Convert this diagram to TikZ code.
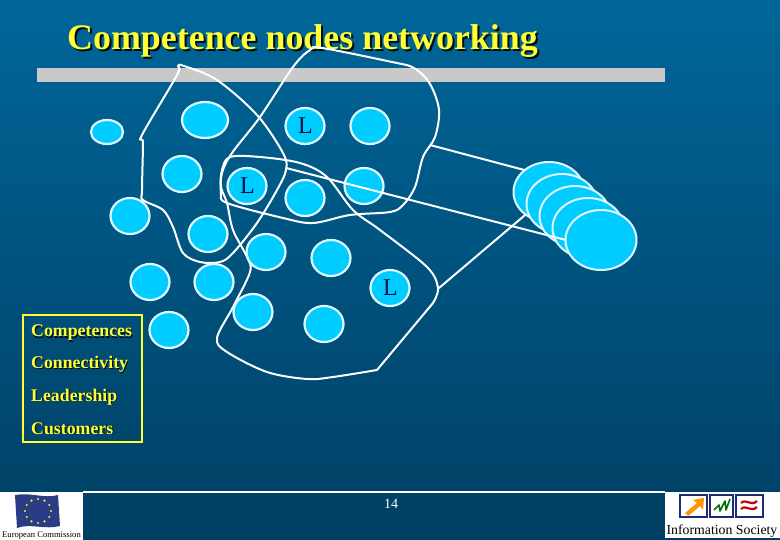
\documentclass[tikz,border=0pt]{standalone}
\usepackage{fontspec}
\setmainfont{Liberation Serif}
\usetikzlibrary{shapes.geometric}
\definecolor{bgtop}{HTML}{006699}
\definecolor{bgbot}{HTML}{003F63}
\definecolor{disc}{HTML}{00CCFF}
\definecolor{ttl}{HTML}{FFFF33}
\definecolor{navy}{HTML}{00104A}
\definecolor{euflag}{HTML}{2B3C86}
\definecolor{isblue}{HTML}{1C2C78}
\tikzset{
  disk/.style={ellipse,draw=white!88!disc,fill=disc,line width=2.2pt,inner sep=0pt,outer sep=0pt,
    minimum width=39pt,minimum height=36pt,text=navy,font=\fontsize{24}{24}\selectfont},
  stackdisk/.style={disk,line width=2pt,minimum width=71pt,minimum height=60pt},
  blob/.style={draw=white,line width=2pt,line join=round},
  link/.style={draw=white,line width=2pt},
  titletext/.style={inner sep=0pt,anchor=base west,font=\fontsize{35.9}{36}\selectfont\bfseries},
  legendtext/.style={inner sep=0pt,anchor=base west,font=\fontsize{17.8}{18}\selectfont\bfseries},
  logotext/.style={inner sep=0pt,anchor=base,text=black},
  isbox/.style={draw=isblue,line width=2.6pt,fill=white}
}
\newcommand{\leaderL}{\hspace*{1pt}\raisebox{-1.5pt}{L}}
\begin{document}
\begin{tikzpicture}[x=1pt,y=-1pt]
\useasboundingbox (0,0) rectangle (780,540);
\shade[top color=bgtop,bottom color=bgbot] (0,0) rectangle (780,540);
% bar
\fill[gray!42!white] (37,68) rectangle (665,82);
% title
\node[titletext,text=black!85!bgbot] (titleshadow) at (69,51.5) {Competence nodes networking};
\node[titletext,text=ttl] (title) at (67,49.5) {Competence nodes networking};
% regions
\draw[blob] plot[smooth cycle,tension=0.55] coordinates {(178,66) (184,66) (217,80) (257,115) (283,153) (286,170) (277,190) (257,223) (233,253) (220,262) (200,262) (183,253) (173,227) (163,210) (143,200) (142,190) (143,143) (142,135) (177,75)};
\draw[blob] plot[smooth cycle,tension=0.55] coordinates {(310,50) (322,48) (392,62) (414,68) (430,84) (439,110) (435,137) (423,157) (415,187) (403,205) (390,212) (350,215) (313,223) (283,218) (227,203) (221,193) (222,173) (232,153) (260,117) (293,67)};
\draw[blob] plot[smooth,tension=0.55] coordinates {(377,370) (333,377) (307,379) (267,372) (227,352) (217,338) (233,307) (250,272) (247,257) (233,230) (227,203) (221,187) (222,170) (230,157) (260,157) (300,163) (327,177) (353,210) (380,230) (427,267) (438,288) (433,303)} -- cycle;
% discs
\node[disk,minimum width=32pt,minimum height=24pt] (d1) at (107,132) {};
\node[disk,minimum width=46pt] (d2) at (205,120) {};
\node[disk] (d3) at (305,126) {\leaderL};
\node[disk] (d4) at (370,126) {};
\node[disk] (d5) at (182,174) {};
\node[disk] (d6) at (247,186) {\leaderL};
\node[disk] (d7) at (305,198) {};
\node[disk] (d8) at (364,186) {};
\node[disk] (d9) at (130,216) {};
\node[disk] (d10) at (208,234) {};
\node[disk] (d11) at (266,252) {};
\node[disk] (d12) at (331,258) {};
\node[disk] (d13) at (390,288) {\leaderL};
\node[disk] (d14) at (150,282) {};
\node[disk] (d15) at (214,282) {};
\node[disk] (d16) at (169,330) {};
\node[disk] (d17) at (253,312) {};
\node[disk] (d18) at (324,324) {};
% stack
\node[stackdisk] (s1) at (549,192) {};
\node[stackdisk] (s2) at (562,204) {};
\node[stackdisk] (s3) at (575,216) {};
\node[stackdisk] (s4) at (588,228) {};
% connectors
\coordinate (c1) at (430,145);
\coordinate (c2) at (286,168);
\coordinate (c3) at (439,288);
\draw[link] (c1) -- (s1.138);
\draw[link] (c3) -- (s1.224);
\draw[link] (c2) -- (566,240);
\node[stackdisk] (s5) at (601,240) {};
% legend
\node[draw=ttl,line width=2pt,minimum width=119pt,minimum height=127pt,inner sep=0pt,outer sep=0pt] (legend) at (82.5,378.5) {};
\foreach \t/\xx/\yy/\nm in {Competences/31/337/la,Connectivity/31/369/lb,Leadership/31/401/lc,Customers/31/434/ld}{
  \node[legendtext,text=black!85!bgbot] (\nm s) at (\xx+1,\yy+1) {\t};
  \node[legendtext,text=ttl] (\nm) at (\xx,\yy) {\t};
}
% footer
\fill[white] (83,491) rectangle (665,493);
\node[inner sep=0pt,text=white,font=\fontsize{14}{14}\selectfont] (page) at (391,504) {14};
% EC logo
\fill[white] (0,492) rectangle (83,540);
\fill[euflag] (15,495) .. controls (30,492) and (45,499) .. (58,495) -- (60,526) .. controls (45,530) and (30,523) .. (17,528) -- cycle;
\foreach \a in {0,30,...,330}{
  \fill[yellow!90!white] ({38+13*cos(\a)},{511+12*sin(\a)}) circle (1.2pt);
}
\node[logotext,font=\fontsize{8.6}{9}\selectfont] (ec) at (41.5,537) {European Commission};
% IS logo
\fill[white] (665,492) rectangle (780,538);
\draw[isbox] (680,495) rectangle (707,517);
\draw[isbox] (710,495) rectangle (733,517);
\draw[isbox] (736,495) rectangle (763,517);
\fill[orange!85!yellow] (685,513) -- (697,503) -- (693,500) -- (704,498) -- (703,510) -- (700,506) -- (688,516) -- cycle;
\draw[green!45!black,line width=1.6pt,line join=round] (714,510) -- (719,505) -- (720,511) -- (725,501) -- (726,510) -- (730,499);
\draw[red!80!black,line width=2.2pt] (741,503) .. controls (746,498) and (751,507) .. (757,501);
\draw[red!80!black,line width=2.2pt] (741,509) .. controls (746,504) and (751,513) .. (757,507);
\node[logotext,font=\fontsize{13.8}{14}\selectfont] (is) at (722,534) {Information Society};
\end{tikzpicture}
\end{document}
